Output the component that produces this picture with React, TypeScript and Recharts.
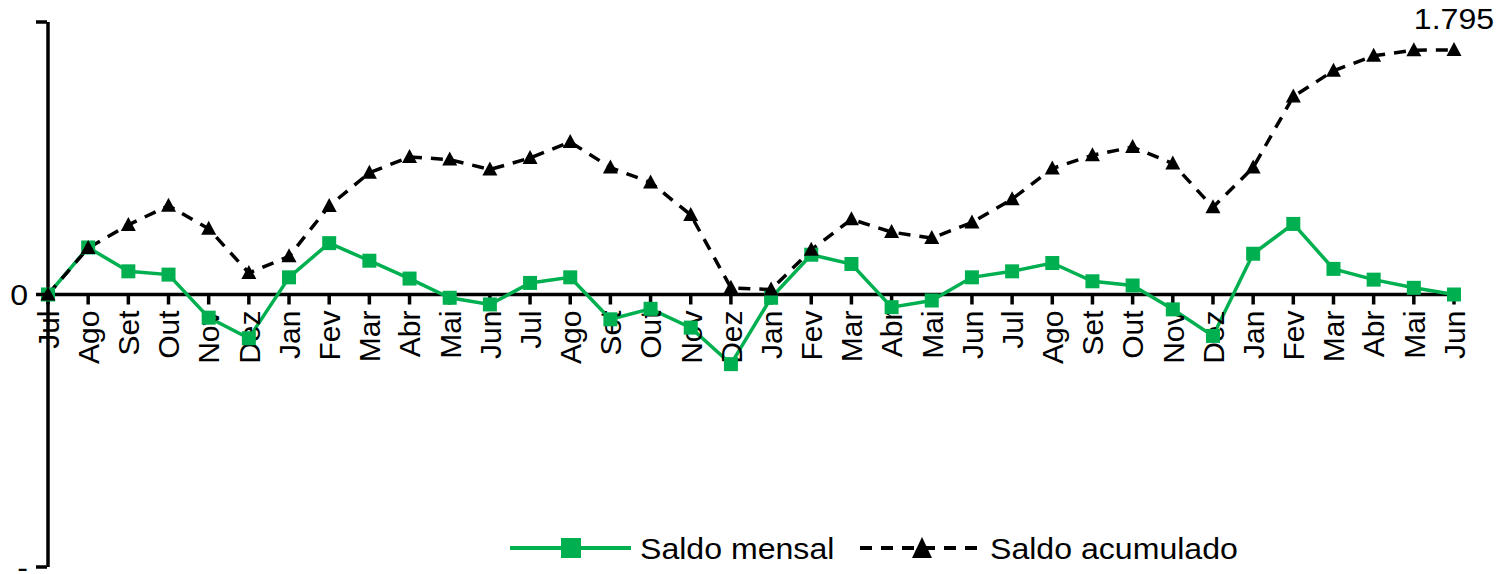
import React from "react";
import { LineChart, Line, XAxis, YAxis, ReferenceLine, ReferenceDot, LabelList } from "recharts";

// rótulos dos meses (jul -> jun, três anos)
const meses = [
  "Jul", "Ago", "Set", "Out", "Nov", "Dez", "Jan", "Fev", "Mar", "Abr", "Mai", "Jun",
  "Jul", "Ago", "Set", "Out", "Nov", "Dez", "Jan", "Fev", "Mar", "Abr", "Mai", "Jun",
  "Jul", "Ago", "Set", "Out", "Nov", "Dez", "Jan", "Fev", "Mar", "Abr", "Mai", "Jun",
];

const saldoMensal = [
  0, 345, 170, 146, -170, -321, 126, 377, 248, 117, -24, -73,
  85, 126, -182, -105, -243, -511, -24, 292, 224, -93, -44, 126,
  170, 231, 97, 66, -109, -304, 299, 518, 188, 109, 49, 0,
];

const saldoAcumulado = [
  0, 341, 511, 652, 482, 158, 280, 650, 893, 1010, 990, 917,
  1002, 1119, 932, 822, 584, 49, 36, 328, 552, 458, 414, 528,
  700, 925, 1022, 1082, 961, 640, 932, 1453, 1642, 1752, 1793, 1795,
];

const yTicks = [-2000, 0, 2000];

const data = meses.map((m, i) => ({
  key: String(i),
  mes: m,
  mensal: saldoMensal[i],
  acumulado: saldoAcumulado[i],
}));

const FONT = "'Liberation Sans', Arial, sans-serif";
const VERDE = "#00b050";
const SX = 1.07; // texto horizontal um pouco esticado no original

const fmtY = (v: number) => (v === 0 ? "0" : v < 0 ? "-" : "");
const fmtNum = (v: number) => v.toLocaleString("pt-BR");

function Square(props: any) {
  const { cx, cy, index } = props;
  if (cx == null || cy == null) return <g key={`s-${index}`} />;
  return <rect key={`s-${index}`} x={cx - 7} y={cy - 7} width={14} height={14} fill={VERDE} />;
}

function Triangle(props: any) {
  const { cx, cy, index } = props;
  if (cx == null || cy == null) return <g key={`t-${index}`} />;
  return <path key={`t-${index}`} d={`M${cx},${cy - 8} L${cx + 7.5},${cy + 6} L${cx - 7.5},${cy + 6} Z`} fill="#000" />;
}

function YTick(props: any) {
  const { x, y, payload } = props;
  return (
    <g>
      <line x1={x + 8} y1={y} x2={x + 19} y2={y} stroke="#000" strokeWidth={3.5} />
      <text
        transform={`translate(${x},${y}) scale(${SX},1)`}
        textAnchor="end"
        dy="0.36em"
        fontSize={30}
        fontFamily={FONT}
        fill="#000"
      >
        {fmtY(payload.value)}
      </text>
    </g>
  );
}

function MonthTick({ cx, cy, label }: { cx: number; cy: number; label: string }) {
  return (
    <g>
      <line x1={cx} y1={cy} x2={cx} y2={cy + 10} stroke="#000" strokeWidth={3.5} />
      <text
        transform={`translate(${cx},${cy + 16}) rotate(-90)`}
        textAnchor="end"
        dy="0.36em"
        fontSize={30}
        fontFamily={FONT}
        fill="#000"
      >
        {label}
      </text>
    </g>
  );
}

function Legenda() {
  return (
    <svg width={1501} height={54} style={{ position: "absolute", left: 0, top: 521 }}>
      <line x1={510} y1={27} x2={631} y2={27} stroke={VERDE} strokeWidth={4} />
      <rect x={561} y={17} width={20} height={20} fill={VERDE} />
      <text transform={`translate(640,27) scale(${SX},1)`} dy="0.36em" fontSize={30} fontFamily={FONT} fill="#000">
        Saldo mensal
      </text>
      <line x1={860} y1={27} x2={982} y2={27} stroke="#000" strokeWidth={4} strokeDasharray="12 9" />
      <path d="M922,16 L932,37 L912,37 Z" fill="#000" />
      <text transform={`translate(990,27) scale(${SX},1)`} dy="0.36em" fontSize={30} fontFamily={FONT} fill="#000">
        Saldo acumulado
      </text>
    </svg>
  );
}

export default function App() {
  const last = data.length - 1;
  return (
    <div style={{ position: "absolute", left: 0, top: 0, width: 1501, height: 574, background: "#fff" }}>
      <LineChart width={1501} height={574} data={data} margin={{ top: 22, right: 47, bottom: 7, left: 0 }}>
        <XAxis dataKey="key" hide />
        <YAxis
          type="number"
          domain={[-2000, 2000]}
          ticks={yTicks}
          interval={0}
          width={48}
          tickSize={0}
          tickMargin={20}
          axisLine={{ stroke: "#000", strokeWidth: 3.5 }}
          tickLine={false}
          tick={<YTick />}
        />
        <ReferenceLine y={0} stroke="#000" strokeWidth={3.5} />
        {data.map((d) => (
          <ReferenceDot
            key={`m-${d.key}`}
            x={d.key}
            y={0}
            shape={(p: any) => <MonthTick cx={p.cx} cy={p.cy} label={d.mes} />}
          />
        ))}
        <Line
          dataKey="mensal"
          stroke={VERDE}
          strokeWidth={3.5}
          dot={Square}
          activeDot={false}
          isAnimationActive={false}
        />
        <Line
          dataKey="acumulado"
          stroke="#000"
          strokeWidth={3.5}
          strokeDasharray="12 9"
          dot={Triangle}
          activeDot={false}
          isAnimationActive={false}
        >
          <LabelList
            dataKey="acumulado"
            content={(p: any) =>
              p.index === last ? (
                <text
                  transform={`translate(${p.x},${p.y - 21}) scale(${SX},1)`}
                  textAnchor="middle"
                  fontSize={30}
                  fontFamily={FONT}
                  fill="#000"
                >
                  {fmtNum(p.value)}
                </text>
              ) : null
            }
          />
        </Line>
      </LineChart>
      <Legenda />
    </div>
  );
}
